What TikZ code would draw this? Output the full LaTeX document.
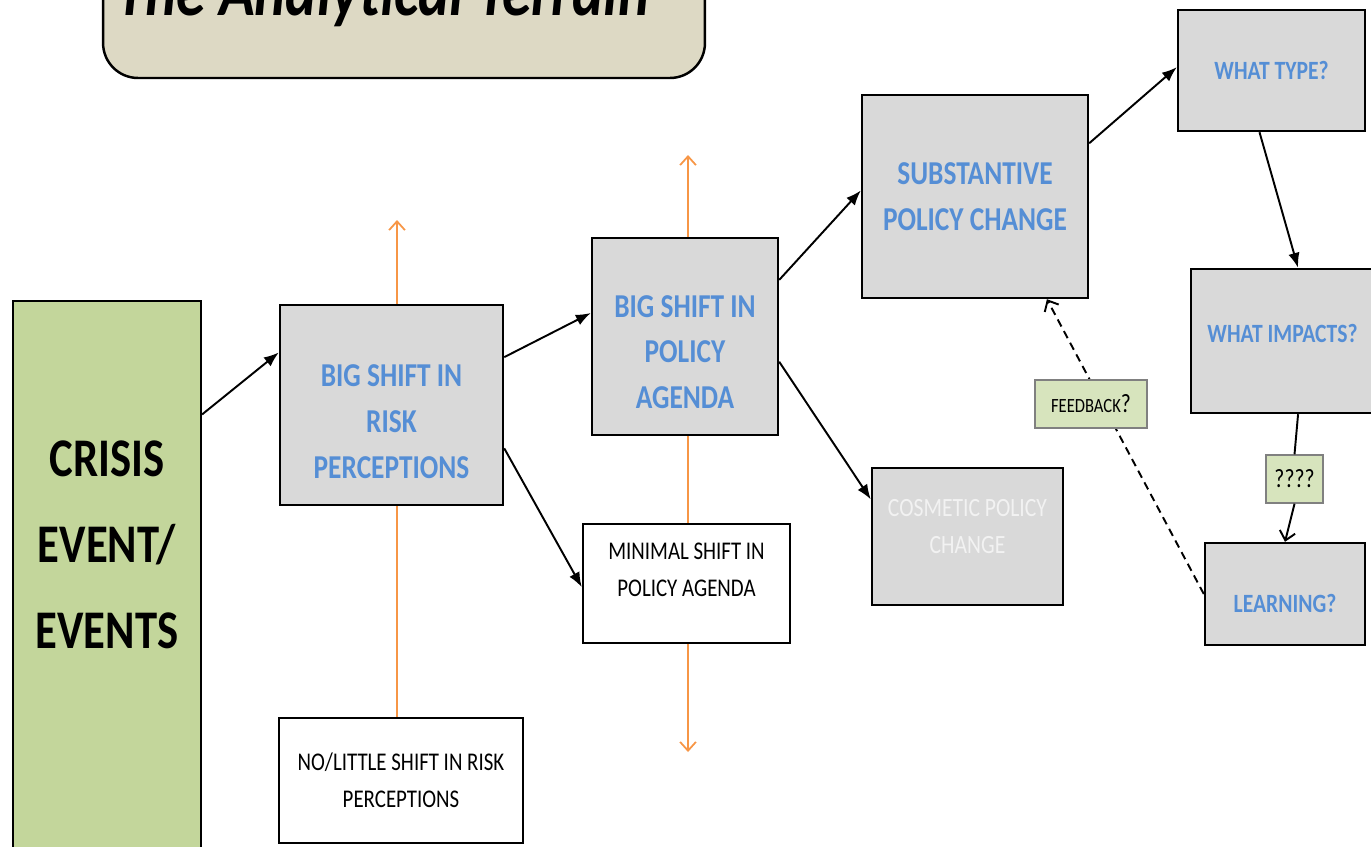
\documentclass[tikz,border=0pt]{standalone}
\usepackage{fontspec}
\setmainfont{Carlito}[FakeStretch=0.82]
\usetikzlibrary{arrows.meta,backgrounds}

\definecolor{boxgray}{HTML}{D9D9D9}
\definecolor{textblue}{HTML}{558ED5}
\definecolor{crisisgreen}{HTML}{C3D69B}
\definecolor{notegreen}{HTML}{D7E4BD}
\definecolor{titlebeige}{HTML}{DDD9C4}
\definecolor{shiftorange}{HTML}{F79646}
\definecolor{paletext}{HTML}{F2F2F2}

% taller first line, to set a box's text lower
\newcommand{\lowerby}[1]{\rule{0pt}{#1}}

\tikzset{
  barb/.tip={Straight Barb[length=5pt,width=9pt]},
  stage/.style={draw, line width=1.4pt, fill=boxgray, align=center, text=textblue,
    font=\fontsize{19}{26}\selectfont\bfseries},
  question/.style={stage, font=\fontsize{15}{20}\selectfont\bfseries},
  plainbox/.style={draw, line width=1.4pt, fill=white, align=center,
    font=\fontsize{14.5}{21}\selectfont},
  notebox/.style={draw=gray, line width=0.8pt, fill=notegreen, align=center},
  flow/.style={line width=1.1pt, -{Latex[length=8.5pt,width=6.5pt]}},
  openflow/.style={line width=1.1pt, -barb},
  orangeline/.style={shiftorange, line width=1pt},
  % deeper last line, to set a box's text higher
  textup/.style={execute at end node={\rule[-#1]{0pt}{#1}}},
}

\begin{document}
\begin{tikzpicture}[x=0.02cm, y=-0.02cm]
\useasboundingbox (0,0) rectangle (1371,846);
% title banner, cut by the page edge
\node[draw, line width=1.4pt, fill=titlebeige, rounded corners=0.7cm, minimum width=12.04cm,
  minimum height=3.16cm, font=\fontsize{41}{48}\selectfont\bfseries\itshape,
  execute at end node={\hspace*{24pt}\rule[-10pt]{0pt}{10pt}}] (title) at (404,-1) {The Analytical Terrain};
\node[draw, line width=1.2pt, fill=crisisgreen, minimum width=3.76cm, minimum height=12cm, anchor=north] (crisis) at (107,300) {};
\node[font=\fontsize{31}{49}\selectfont\bfseries, align=center] (crisislbl) at (107,545) {CRISIS\\EVENT/\\EVENTS};
\node[stage, minimum width=4.46cm, minimum height=4cm] (risk) at (391.5,405) {\lowerby{31.5pt}BIG SHIFT IN\\RISK\\PERCEPTIONS};
\node[stage, minimum width=3.72cm, minimum height=3.94cm] (agenda) at (685,336.5) {\lowerby{30pt}BIG SHIFT IN\\POLICY\\AGENDA};
\node[stage, minimum width=4.52cm, minimum height=4.06cm] (subst) at (975,196.5) {SUBSTANTIVE\\POLICY CHANGE};
\node[question, minimum width=3.74cm, minimum height=2.42cm] (type) at (1271.5,70.5) {WHAT TYPE?};
\node[question, textup=9pt, minimum width=3.66cm, minimum height=2.88cm] (impacts) at (1282.5,341) {WHAT IMPACTS?};
\node[question, minimum width=3.2cm, minimum height=2.04cm] (learn) at (1285,594) {\lowerby{21pt}LEARNING?};
\node[stage, textup=11pt, text=paletext, font=\fontsize{15}{21}\selectfont, minimum width=3.82cm, minimum height=2.74cm] (cosmetic) at (967.5,536.5) {COSMETIC POLICY\\CHANGE};
\node[plainbox, textup=16pt, minimum width=4.14cm, minimum height=2.38cm] (minimal) at (686.5,583.5) {MINIMAL SHIFT IN\\POLICY AGENDA};
\node[plainbox, minimum width=4.88cm, minimum height=2.5cm] (nolittle) at (401,780.5) {NO/LITTLE SHIFT IN RISK\\PERCEPTIONS};
\node[notebox, minimum width=1.14cm, minimum height=0.96cm, font=\fontsize{15}{18}\selectfont] (qq) at (1294.5,479) {????};

% orange shifts behind the boxes
\coordinate (riskup) at (397,220);
\coordinate (agendaup) at (688,155);
\coordinate (agendadown) at (688,752);
\begin{scope}[on background layer]
\draw[orangeline, -barb] (riskup |- nolittle.north) -- (riskup);
\draw[orangeline, barb-barb] (agendadown) -- (agendaup);
\end{scope}

\draw[flow] (crisis.63) -- (risk.155);
\draw[flow] (risk.23) -- (agenda.166);
\draw[flow] (risk.-21) -- (minimal.182);
\draw[flow] (agenda.31) -- (subst.177);
\draw[flow] (agenda.-15) -- (cosmetic.159);
\draw[flow] (subst.25) -- (type.178.5);
\draw[flow] (type.-101) -- (impacts.78);
\draw[line width=1.1pt] (impacts.-78.6) -- (qq.north);
\draw[openflow] (qq.south) -- (learn.north);
\draw[openflow, dash pattern=on 4.5pt off 3pt] (learn.west) -- (subst.-55);
\node[notebox, minimum width=2.24cm, minimum height=0.96cm, font=\fontsize{11.5}{14}\selectfont] (feedback) at (1091,404) {FEEDBACK{\fontsize{15}{14}\selectfont ?}};
\end{tikzpicture}
\end{document}
